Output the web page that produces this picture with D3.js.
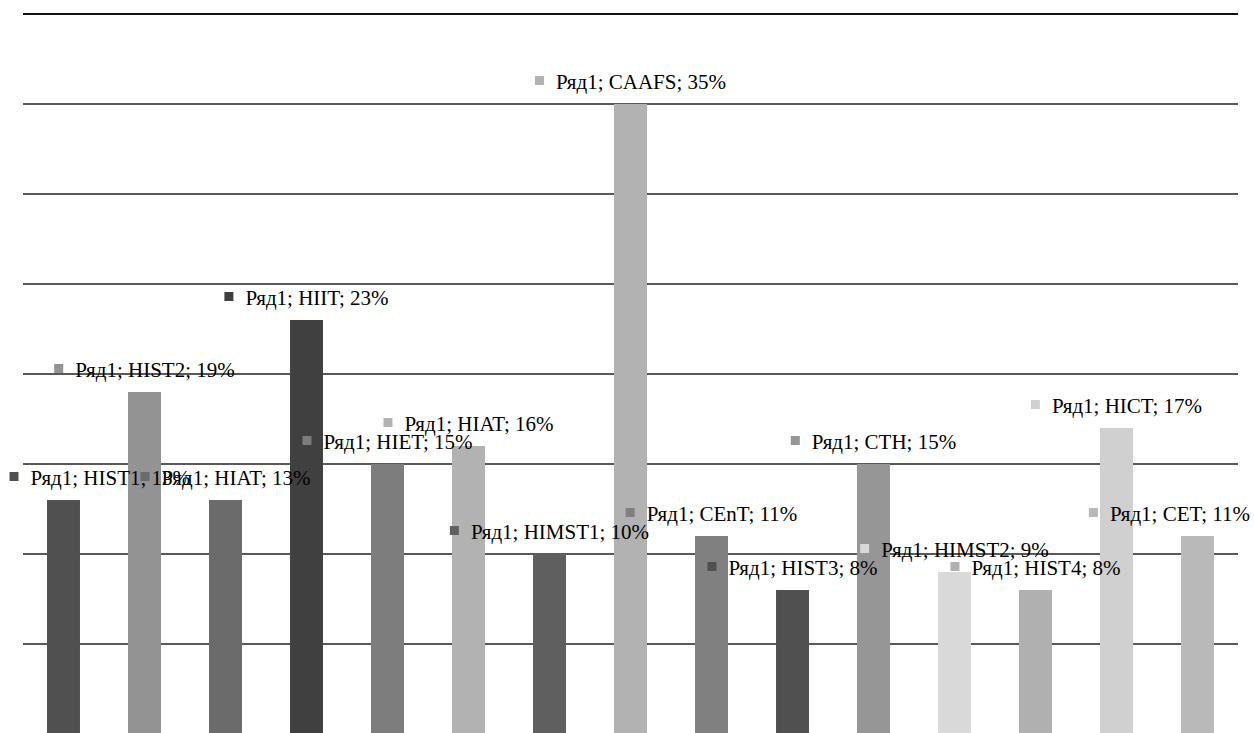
<!DOCTYPE html>
<html>
<head>
<meta charset="utf-8">
<script src="https://cdn.jsdelivr.net/npm/d3@7"></script>
<style>
  html, body { margin: 0; padding: 0; background: #fff; }
  svg { display: block; }
  .lbl { font-family: "Liberation Serif", "DejaVu Serif", serif; font-size: 21px; fill: #000; }
</style>
</head>
<body>
<svg id="chart" width="1254" height="733"></svg>
<script>
const seriesName = "Ряд1";
const categories = ["HIST1","HIST2","HIAT","HIIT","HIET","HIAT","HIMST1","CAAFS","CEnT","HIST3","CTH","HIMST2","HIST4","HICT","CET"];
const values = [13, 19, 13, 23, 15, 16, 10, 35, 11, 8, 15, 9, 8, 17, 11];
const barColors = ["#505050","#939393","#6b6b6b","#404040","#7d7d7d","#b2b2b2","#5f5f5f","#b2b2b2","#808080","#505050","#969696","#d9d9d9","#b0b0b0","#d0d0d0","#b9b9b9"];
const yTicks = [0, 5, 10, 15, 20, 25, 30, 35, 40];

const svg = d3.select("#chart");

const x = d3.scaleBand()
  .domain(d3.range(categories.length))
  .range([23, 1238])
  .paddingInner(0.593)
  .paddingOuter(0.2965);

const y = d3.scaleLinear().domain([0, 40]).range([734, 14]);

// gridlines
svg.append("g").selectAll("line")
  .data(yTicks)
  .join("line")
  .attr("x1", 23).attr("x2", 1238)
  .attr("y1", d => y(d)).attr("y2", d => y(d))
  .attr("stroke", d => d === 40 ? "#111" : "#595959")
  .attr("stroke-width", 2);

// bars
svg.append("g").selectAll("rect")
  .data(values)
  .join("rect")
  .attr("x", (d, i) => x(i))
  .attr("width", x.bandwidth())
  .attr("y", d => y(d))
  .attr("height", d => y(0) - y(d))
  .attr("fill", (d, i) => barColors[i]);

// data labels
const lg = svg.append("g");
values.forEach((v, i) => {
  const g = lg.append("g");
  const t = g.append("text")
    .attr("class", "lbl")
    .attr("x", 21)
    .attr("y", 0)
    .text(`${seriesName}; ${categories[i]}; ${v}%`);
  g.append("rect")
    .attr("x", 0).attr("y", -13)
    .attr("width", 9).attr("height", 9)
    .attr("fill", barColors[i]);
  const tw = t.node().getComputedTextLength();
  const total = 21 + tw;
  const cx = x(i) + x.bandwidth() / 2;
  let left = cx - total / 2;
  left = Math.max(9.5, Math.min(left, 1250 - total));
  g.attr("transform", `translate(${left},${y(v) - 15})`);
});
</script>
</body>
</html>
